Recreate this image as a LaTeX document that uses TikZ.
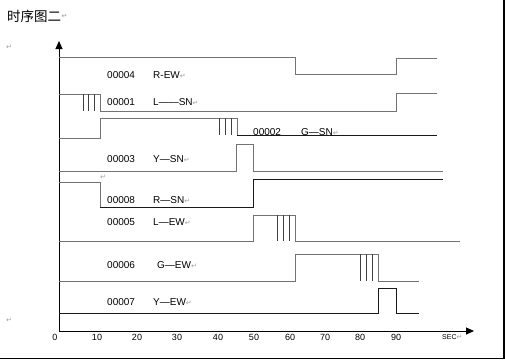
\documentclass[tikz,border=0pt]{standalone}
\usepackage{fontspec}
\setmainfont{Liberation Sans}
\newfontfamily\cjk{Noto Sans CJK SC}
\newfontfamily\symfont{DejaVu Sans}
\usetikzlibrary{arrows.meta}
\newcommand{\retmark}{{\symfont\fontsize{7}{7}\selectfont\textcolor{gray!75}{↵}}}
\begin{document}
\begin{tikzpicture}[x=1pt,y=-1pt,
  sig/.style={line width=1pt, draw=black!55, line join=miter},
  dk/.style={line width=1pt, draw=black!90, line join=miter},
  flash/.style={line width=0.8pt, draw=black!75},
  lab/.style={font=\fontsize{10}{11}\selectfont, anchor=west, inner sep=0pt},
  tck/.style={font=\fontsize{9}{10}\selectfont, inner sep=0pt},
  retnode/.style={inner sep=0pt},
  axis/.style={line width=1pt, draw=black, -{Triangle[length=8pt,width=7pt]}}]
\useasboundingbox (0,0) rectangle (505,360);
\fill[white] (0,0) rectangle (505,360);
% frame
\draw[line width=1.3pt] (0,358.5) -- (504,358.5) -- (504,0);
% title
\node[anchor=west, inner sep=0pt, font=\cjk\fontsize{13.5}{14}\selectfont] (title) at (7,16) {时序图二};
\node[retnode, anchor=west] (tret) at (title.east) {\retmark};
\node[retnode] (r1) at (9,47) {\retmark};
\node[retnode] (r2) at (9,320) {\retmark};
\node[retnode] (r3) at (103,177) {\retmark};
% axes
\coordinate (O) at (59,331);
\coordinate (Ytop) at (59,41);
\coordinate (Xend) at (474,331);
\draw[axis] (O) -- (Ytop);
\draw[axis] (O) -- (Xend);
% tick labels
\foreach \v/\x in {0/55,10/97,20/137,30/177,40/218,50/254,60/290,70/325,80/360,90/396}
  \node[tck] (t\v) at (\x,337) {\v};
\node[tck, anchor=west] (sec) at (442,337) {\fontsize{7}{8}\selectfont SEC\retmark};
% 00004 R-EW
\draw[sig] (59,57) -- (295,57) -- (295,74) -- (396,74) -- (396,58) -- (437,58);
% 00001 L--SN
\draw[sig] (59,94) -- (100,94) -- (100,111) -- (396,111) -- (396,93) -- (437,93);
\foreach \x in {83,88.5,94} \draw[flash] (\x,94) -- (\x,111);
% 00002 G-SN
\draw[sig] (59,138) -- (100,138) -- (100,118) -- (237,118) -- (237,135);
\draw[dk] (237,135) -- (437,135);
\foreach \x in {219,225,231} \draw[flash] (\x,118) -- (\x,135);
% 00003 Y-SN
\draw[sig] (59,171) -- (236,171) -- (236,144) -- (253,144) -- (253,171) -- (443,171);
% 00008 R-SN
\draw[sig] (59,182) -- (100,182) -- (100,207);
\draw[dk] (100,207) -- (253,207) -- (253,179) -- (443,179);
% 00005 L-EW
\draw[sig] (59,241) -- (253,241) -- (253,215) -- (295,215) -- (295,241) -- (460,241);
\foreach \x in {277,283,289} \draw[flash] (\x,215) -- (\x,241);
% 00006 G-EW
\draw[sig] (59,281) -- (295,281) -- (295,254) -- (378,254) -- (378,281) -- (419,281);
\foreach \x in {360,366,372} \draw[flash] (\x,254) -- (\x,281);
% 00007 Y-EW
\draw[dk] (59,313) -- (378,313) -- (378,288) -- (396,288) -- (396,313) -- (419,313);
% labels
\node[lab] (c4) at (107,75) {00004};  \node[lab] (n4) at (153,75) {R-EW\retmark};
\node[lab] (c1) at (107,102) {00001}; \node[lab] (n1) at (153,102) {L——SN\retmark};
\node[lab] (c2) at (253,132) {00002}; \node[lab] (n2) at (301,132) {G—SN\retmark};
\node[lab] (c3) at (107,159) {00003}; \node[lab] (n3) at (153,159) {Y—SN\retmark};
\node[lab] (c8) at (107,200) {00008}; \node[lab] (n8) at (153,200) {R—SN\retmark};
\node[lab] (c5) at (107,222) {00005}; \node[lab] (n5) at (153,222) {L—EW\retmark};
\node[lab] (c6) at (107,265) {00006}; \node[lab] (n6) at (157,265) {G—EW\retmark};
\node[lab] (c7) at (107,302) {00007}; \node[lab] (n7) at (153,302) {Y—EW\retmark};
\end{tikzpicture}
\end{document}
